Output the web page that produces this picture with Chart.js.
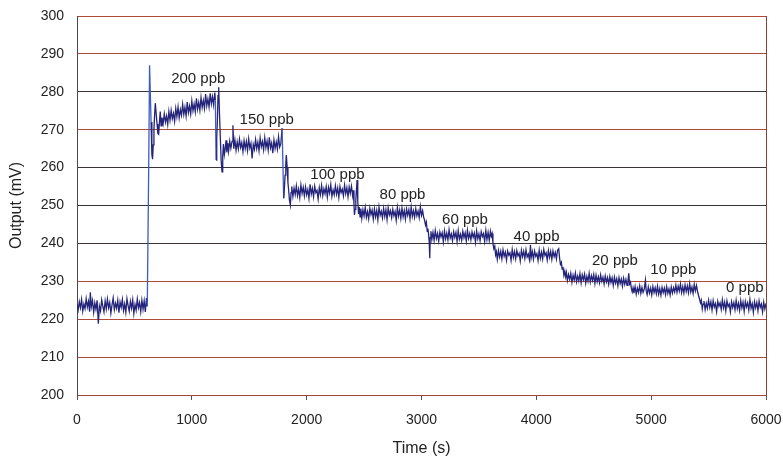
<!DOCTYPE html>
<html><head><meta charset="utf-8">
<script src="https://cdn.jsdelivr.net/npm/chart.js@4.4.1/dist/chart.umd.min.js"></script>
<style>html,body{margin:0;padding:0;background:#fff;}</style>
</head><body>
<canvas id="c" width="783" height="458"></canvas>
<script>
// Time (s), Output (mV), one array per concentration step
const ppb0Start = [[0,223.9],[10,222.4],[20,224.6],[30,223.0],[40,225.2],[50,222.1],[60,224.0],[70,222.8],[80,225.4],[90,223.2],[100,224.7],[110,222.0],[116,227.1],[125,223.3],[135,224.9],[145,221.8],[155,224.3],[165,222.6],[175,225.0],[186,218.8],[195,223.5],[205,222.2],[215,225.1],[225,223.4],[235,221.9],[245,224.8],[255,222.7],[265,225.3],[275,223.0],[285,224.4],[295,221.6],[305,223.8],[315,225.6],[325,222.5],[335,224.2],[345,222.9],[355,225.0],[365,221.7],[375,224.5],[385,223.1],[395,225.2],[405,222.3],[415,224.0],[425,221.8],[435,225.4],[445,223.6],[455,222.1],[465,224.7],[475,222.9],[485,225.1],[495,221.5],[505,223.9],[515,222.4],[525,225.3],[535,223.0],[545,224.4],[555,222.0],[565,225.0],[575,222.6],[585,224.8],[595,221.9],[605,225.6],[612,223.4]];
const ppb200 = [[625,262.0],[632,287.0],[645,272.0],[652,263.5],[658,262.2],[664,266.0],[670,270.0],[676,274.0],[682,277.0],[690,274.0],[697,271.5],[704,269.0],[711,268.8],[718,272.0],[725,274.8],[732,271.0],[740,273.2],[750,271.6],[760,274.2],[770,272.0],[780,273.6],[790,271.4],[800,274.8],[810,272.5],[820,275.1],[830,272.9],[840,274.3],[850,272.2],[860,275.6],[870,273.4],[880,276.0],[890,273.1],[900,275.3],[910,273.8],[920,276.7],[930,274.0],[940,275.9],[950,273.6],[960,277.3],[970,274.5],[980,276.2],[990,274.1],[1000,277.6],[1010,275.0],[1020,276.8],[1030,274.7],[1040,278.3],[1050,275.4],[1060,277.2],[1070,275.1],[1080,278.5],[1090,275.9],[1100,277.7],[1110,275.6],[1120,279.4],[1130,276.3],[1140,278.1],[1150,276.0],[1160,279.6],[1170,276.8],[1180,278.7],[1190,276.5],[1200,279.8],[1205,277.8]];
const ppb150 = [[1211,262.0],[1217,268.0],[1222,272.0],[1228,279.0],[1234,281.2],[1241,274.0],[1248,268.0],[1255,262.0],[1263,258.9],[1269,263.0],[1275,266.2],[1283,263.4],[1290,264.8],[1298,267.2],[1305,264.0],[1313,266.5],[1320,264.3],[1330,267.0],[1340,265.1],[1350,266.9],[1358,271.2],[1365,265.0],[1375,267.3],[1385,264.6],[1395,266.8],[1405,264.9],[1415,267.5],[1425,265.3],[1435,266.6],[1445,264.2],[1455,267.1],[1465,265.0],[1475,266.9],[1485,264.5],[1495,267.6],[1505,265.2],[1515,266.4],[1525,262.4],[1535,266.1],[1545,264.8],[1555,267.4],[1565,265.0],[1575,266.7],[1585,264.4],[1595,267.8],[1605,265.5],[1615,266.9],[1625,264.7],[1635,267.9],[1645,265.3],[1655,267.0],[1665,264.6],[1675,268.0],[1685,265.2],[1695,266.5],[1705,263.8],[1715,267.3],[1725,265.1],[1735,266.8],[1745,264.9],[1755,268.1],[1765,265.4],[1775,266.3],[1786,270.4]];
const ppb100 = [[1800,251.9],[1806,254.5],[1812,258.0],[1818,261.0],[1823,263.3],[1830,260.0],[1837,256.0],[1843,254.1],[1850,251.5],[1858,250.1],[1864,253.4],[1870,255.0],[1880,252.4],[1890,254.6],[1900,252.9],[1910,255.2],[1920,252.6],[1930,254.3],[1940,252.1],[1950,255.4],[1960,253.2],[1970,254.8],[1980,252.5],[1990,254.9],[2000,252.8],[2010,254.2],[2020,251.9],[2030,255.6],[2040,253.0],[2050,254.5],[2060,252.3],[2070,255.1],[2080,253.4],[2090,254.0],[2100,251.7],[2110,254.7],[2120,252.9],[2130,255.3],[2140,252.6],[2150,254.4],[2160,253.1],[2170,255.0],[2180,252.2],[2190,254.8],[2200,253.3],[2210,255.5],[2220,252.4],[2230,254.1],[2240,252.8],[2250,255.2],[2260,253.0],[2270,254.6],[2280,252.1],[2290,255.0],[2300,253.4],[2310,254.3],[2320,252.5],[2330,255.4],[2340,253.1],[2350,254.7],[2360,252.3],[2370,254.9],[2380,253.2],[2390,255.1],[2400,252.7],[2405,254.0]];
const ppb80 = [[2412,250.5],[2416,247.5],[2422,249.0],[2428,251.5],[2434,254.5],[2439,256.7],[2445,251.0],[2452,247.8],[2458,249.6],[2465,247.0],[2472,249.2],[2480,246.6],[2490,248.9],[2500,247.2],[2510,249.5],[2520,246.9],[2530,248.4],[2540,246.5],[2550,249.3],[2560,247.6],[2570,248.8],[2580,246.4],[2590,249.1],[2600,247.0],[2610,248.7],[2620,246.2],[2630,249.6],[2640,247.4],[2650,248.5],[2660,246.7],[2670,249.2],[2680,247.1],[2690,248.9],[2700,246.3],[2710,249.4],[2720,247.5],[2730,248.6],[2740,246.8],[2750,249.0],[2760,247.3],[2770,248.4],[2780,246.1],[2790,249.5],[2800,247.2],[2810,248.8],[2820,246.6],[2830,249.3],[2840,247.0],[2850,248.7],[2860,246.4],[2870,249.1],[2880,247.4],[2890,248.9],[2900,246.5],[2910,249.6],[2920,247.1],[2930,248.6],[2940,246.9],[2950,249.2],[2960,247.3],[2970,248.5],[2980,246.8],[2990,249.7],[3000,247.4]];
const ppb60 = [[3010,248.6],[3018,247.0],[3026,246.2],[3035,244.8],[3042,245.6],[3050,243.2],[3056,243.9],[3062,242.2],[3067,240.5],[3072,236.1],[3076,241.5],[3082,243.2],[3090,241.0],[3100,242.9],[3110,240.8],[3120,243.4],[3130,241.3],[3140,242.6],[3150,240.6],[3160,243.0],[3170,241.7],[3180,242.8],[3190,240.4],[3200,243.3],[3210,241.2],[3220,242.7],[3230,240.9],[3240,243.6],[3250,241.4],[3260,242.5],[3270,240.7],[3280,243.1],[3290,241.6],[3300,242.9],[3310,240.5],[3320,243.4],[3330,241.1],[3340,242.4],[3350,240.8],[3360,243.2],[3370,241.5],[3380,242.8],[3390,240.6],[3400,243.5],[3410,241.3],[3420,242.6],[3430,240.9],[3440,243.0],[3450,241.6],[3460,242.7],[3470,240.3],[3480,243.3],[3490,241.2],[3500,242.5],[3510,240.7],[3520,243.1],[3530,241.8],[3540,242.6],[3550,240.5],[3560,243.4],[3570,241.0],[3580,242.9],[3590,240.8],[3600,243.2],[3608,241.9],[3615,242.6]];
const ppb40 = [[3622,240.0],[3630,238.6],[3638,239.3],[3645,237.0],[3652,237.8],[3660,235.8],[3670,238.1],[3680,236.4],[3690,237.9],[3700,235.9],[3710,238.3],[3720,236.6],[3730,237.7],[3740,235.6],[3750,238.0],[3760,236.9],[3770,237.5],[3780,235.5],[3790,238.4],[3800,236.3],[3810,237.8],[3820,235.9],[3830,238.1],[3840,236.7],[3850,237.4],[3860,235.4],[3870,238.2],[3880,236.5],[3890,237.9],[3900,236.0],[3910,238.3],[3920,236.4],[3930,237.2],[3940,235.7],[3949,239.6],[3955,236.2],[3965,237.8],[3975,235.8],[3985,238.0],[3995,236.6],[4005,237.3],[4015,235.5],[4025,238.2],[4035,236.1],[4045,237.7],[4055,235.9],[4065,238.4],[4075,236.8],[4085,237.5],[4095,235.6],[4105,238.1],[4115,236.3],[4125,237.9],[4135,235.8],[4145,238.0],[4155,236.5],[4165,237.6],[4175,235.9],[4185,238.2],[4195,238.6]];
const ppb20 = [[4203,236.0],[4210,234.5],[4218,235.0],[4225,233.2],[4232,233.8],[4240,231.6],[4248,232.7],[4255,231.2],[4262,232.3],[4270,230.2],[4280,231.8],[4290,230.5],[4300,232.1],[4310,229.7],[4320,231.6],[4330,230.3],[4340,232.2],[4350,229.9],[4360,231.4],[4370,230.1],[4380,232.0],[4390,229.6],[4400,231.7],[4410,230.4],[4420,231.9],[4430,229.5],[4440,231.3],[4450,230.0],[4460,232.1],[4470,229.8],[4480,231.5],[4490,230.2],[4500,231.8],[4510,229.4],[4520,231.6],[4530,229.9],[4540,231.2],[4550,229.6],[4560,231.7],[4570,230.0],[4580,231.1],[4590,229.3],[4600,231.4],[4610,229.8],[4620,231.0],[4630,229.2],[4640,231.3],[4650,229.7],[4660,230.9],[4670,228.9],[4680,231.1],[4690,229.5],[4700,230.7],[4710,228.8],[4720,231.0],[4730,229.4],[4740,230.6],[4750,228.7],[4760,230.8],[4770,229.2],[4780,230.5],[4790,228.9],[4798,230.2],[4805,232.1],[4812,229.3],[4820,229.8]];
const ppb10 = [[4828,228.0],[4835,227.2],[4842,228.3],[4850,226.9],[4860,228.6],[4870,226.6],[4880,228.2],[4890,227.0],[4900,228.8],[4910,226.8],[4920,228.4],[4930,227.1],[4940,228.0],[4950,230.3],[4957,227.4],[4965,226.5],[4975,228.5],[4985,226.9],[4995,228.2],[5005,226.4],[5015,228.6],[5025,227.0],[5035,228.3],[5045,226.7],[5055,228.7],[5065,226.6],[5075,228.1],[5085,226.3],[5095,228.4],[5105,227.0],[5115,228.2],[5125,226.5],[5135,228.6],[5145,226.8],[5155,228.0],[5165,226.4],[5175,228.5],[5185,226.9],[5195,228.3],[5205,227.2],[5215,229.0],[5225,227.1],[5235,228.7],[5245,227.4],[5255,229.3],[5265,227.0],[5275,228.6],[5285,226.9],[5295,229.1],[5305,227.3],[5315,228.8],[5325,227.0],[5335,229.4],[5345,227.2],[5355,228.5],[5365,226.8],[5375,229.2],[5385,227.5],[5395,228.9],[5405,227.1],[5415,226.0]];
const ppb0End = [[5422,225.2],[5430,224.3],[5437,225.0],[5445,222.7],[5452,224.0],[5460,224.8],[5470,222.5],[5480,224.2],[5490,222.9],[5500,225.0],[5510,223.1],[5520,224.6],[5530,222.4],[5540,224.9],[5550,223.2],[5560,224.1],[5570,222.0],[5580,224.7],[5590,223.4],[5600,224.3],[5610,222.6],[5620,225.1],[5630,223.0],[5640,224.5],[5650,222.2],[5660,224.8],[5670,223.3],[5680,224.0],[5690,221.9],[5700,224.6],[5710,223.1],[5720,224.4],[5730,222.5],[5740,225.0],[5750,222.8],[5760,224.2],[5770,222.3],[5780,224.9],[5790,223.0],[5800,224.5],[5810,222.1],[5820,224.7],[5830,223.2],[5840,224.3],[5850,222.4],[5860,225.2],[5870,222.9],[5880,224.1],[5890,221.8],[5900,224.6],[5910,223.0],[5920,224.4],[5930,222.2],[5940,224.8],[5950,223.1],[5960,224.0],[5970,221.9],[5980,224.5],[5990,222.7],[6000,224.2]];

// Concentration annotations (text, time, output at text baseline)
const concLabels = ['200 ppb','150 ppb','100 ppb','80 ppb','60 ppb','40 ppb','20 ppb','10 ppb','0 ppb'];
const concLabelX = [820,1416,2032,2635,3179,3802,4485,4993,5652];
const concLabelY = [282.3,271.4,256.9,251.6,245.0,240.7,234.3,231.8,227.1];

const xTitle = 'Time (s)';
const yTitle = 'Output (mV)';

const series = [].concat(ppb0Start, ppb200, ppb150, ppb100, ppb80, ppb60, ppb40, ppb20, ppb10, ppb0End)
  .map(p => ({x: p[0], y: p[1]}));

const FONT = '"Liberation Sans", Arial, sans-serif';
const redGrid = '#b0493a', darkGrid = '#3a3434';
const redVals = [300, 290, 270, 230, 220, 210, 200];

const labelPlugin = {
  id: 'concLabels',
  afterDatasetsDraw(chart) {
    const {ctx, scales} = chart;
    ctx.save();
    ctx.font = '15px ' + FONT;
    ctx.fillStyle = '#222';
    ctx.textAlign = 'left';
    ctx.textBaseline = 'alphabetic';
    concLabels.forEach((t, i) => {
      ctx.fillText(t, scales.x.getPixelForValue(concLabelX[i]), scales.y.getPixelForValue(concLabelY[i]));
    });
    ctx.restore();
  }
};

new Chart(document.getElementById('c'), {
  type: 'line',
  data: {
    datasets: [{
      data: series,
      borderColor: '#24247a',
      borderWidth: 1.3,
      pointRadius: 0,
      tension: 0,
      fill: false,
      segment: {
        borderColor: c => Math.abs(c.p1.parsed.y - c.p0.parsed.y) > 9 ? '#3b5cc4' : undefined
      }
    }]
  },
  options: {
    responsive: false,
    animation: false,
    events: [],
    layout: {padding: {top: 16, right: 17, left: 0, bottom: 0}},
    plugins: {legend: {display: false}, tooltip: {enabled: false}},
    scales: {
      x: {
        type: 'linear', min: 0, max: 6000,
        afterFit: s => { s.height = 63; s.paddingLeft = 0; s.paddingRight = 0; },
        ticks: {stepSize: 1000, font: {family: FONT, size: 14}, color: '#222', padding: 12, maxRotation: 0,
                callback: v => String(v)},
        grid: {
          drawOnChartArea: true,
          color: c => (c.tick && c.tick.value === 6000) ? '#8a4034' : 'rgba(0,0,0,0)',
          tickColor: '#555', tickLength: 5, lineWidth: 1
        },
        border: {display: true, color: '#a0463a'},
        title: {display: true, text: xTitle, font: {family: FONT, size: 16}, color: '#222', padding: {top: 0, bottom: 0}}
      },
      y: {
        min: 200, max: 300,
        afterFit: s => { s.width = 77; s.paddingTop = 0; s.paddingBottom = 0; },
        ticks: {stepSize: 10, font: {family: FONT, size: 14}, color: '#222', padding: 13,
                callback: v => String(v)},
        grid: {
          drawTicks: false,
          color: c => (c.tick && redVals.includes(c.tick.value)) ? redGrid : darkGrid,
          lineWidth: 1
        },
        border: {display: true, color: '#4a4a4a'},
        title: {display: true, text: yTitle, font: {family: FONT, size: 16}, color: '#222', padding: {top: 7, bottom: 0}}
      }
    }
  },
  plugins: [labelPlugin]
});
</script>
</body></html>
